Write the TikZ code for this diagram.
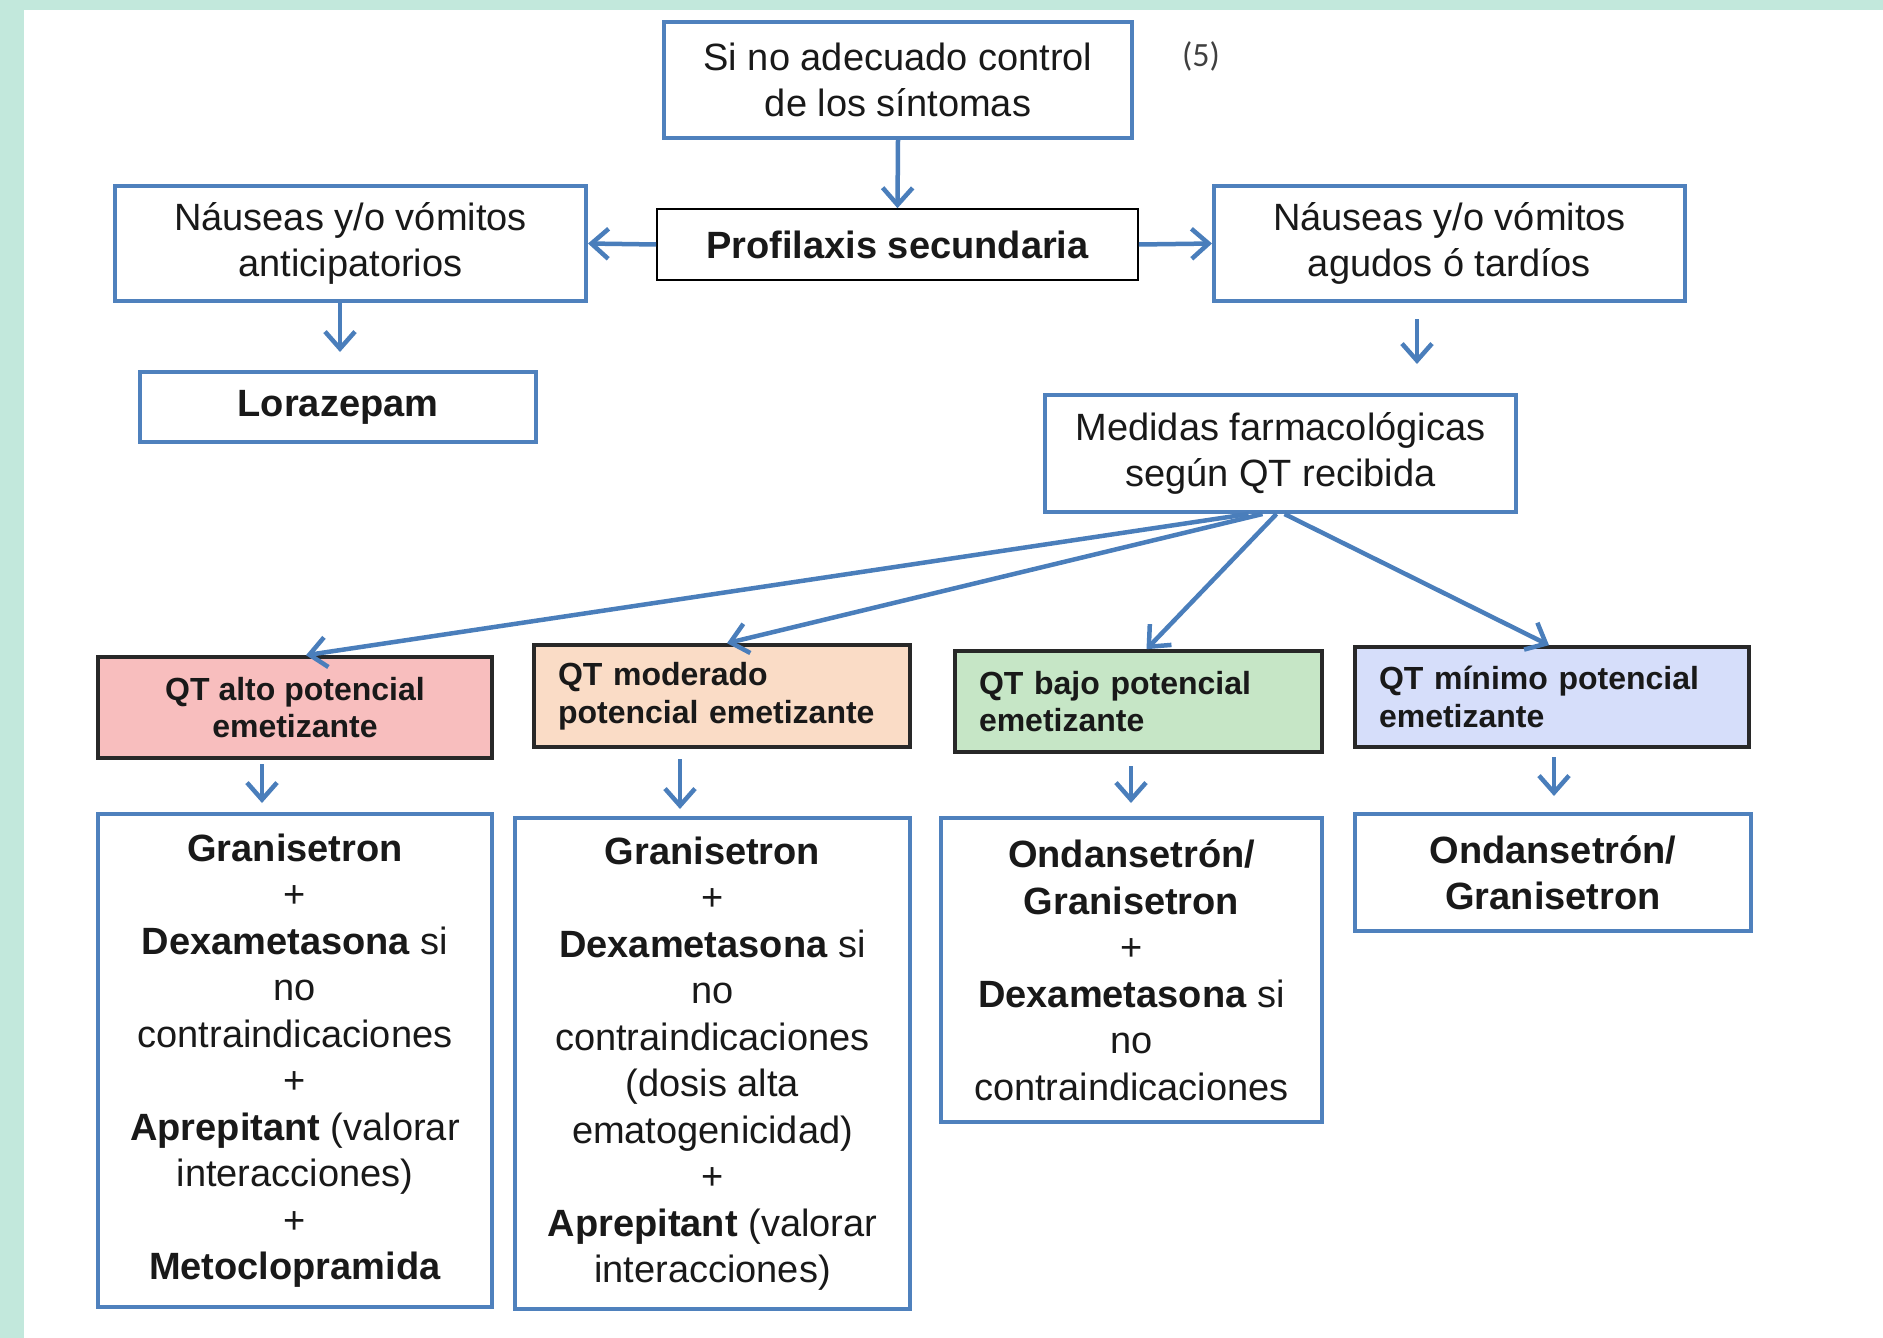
\documentclass[tikz,border=0pt]{standalone}
\usepackage{fontspec}
\setmainfont{Liberation Sans}
\newfontfamily\calib{Carlito}
\usetikzlibrary{arrows.meta,calc}
\definecolor{mint}{RGB}{194,232,220}
\definecolor{bblue}{RGB}{79,129,189}
\definecolor{ablue}{RGB}{74,126,187}
\definecolor{txt}{RGB}{25,25,25}
\definecolor{fpink}{RGB}{248,190,190}
\definecolor{fpeach}{RGB}{250,220,198}
\definecolor{fgreen}{RGB}{198,230,198}
\definecolor{flav}{RGB}{214,222,250}
\definecolor{qborder}{RGB}{40,40,40}
\tikzset{
  bigtxt/.style={font=\fontsize{38}{46.5}\selectfont, text=txt},
  bbox/.style={draw=bblue, line width=4pt, fill=white, inner sep=0pt, align=center, bigtxt},
  kbox/.style={draw=black, line width=1.6pt, fill=white, inner sep=0pt, align=center, bigtxt},
  qbox/.style={draw=qborder, line width=3.6pt, inner xsep=24pt, inner ysep=0pt, align=left,
     font=\fontsize{32}{37.5}\selectfont\bfseries, text=txt},
  arr/.style={draw=ablue, line width=4.5pt, -{Straight Barb[length=17pt,width=30pt,line width=4.5pt]}},
}
\begin{document}
\begin{tikzpicture}[x=1pt,y=-1pt]
\useasboundingbox (0,0) rectangle (1883,1338);
\fill[mint] (0,0) rectangle (1883,1338);
\fill[white] (24,10) rectangle (1883,1338);

% top row
\node[bbox, minimum width=468pt, minimum height=116pt] (top) at (898,80) {Si no adecuado control\\de los síntomas};
\node[font=\calib\fontsize{34}{40}\selectfont, text=black!75] (ref) at (1201,56) {(5)};
\node[kbox, minimum width=481pt, minimum height=71pt, font=\fontsize{38}{46.5}\selectfont\bfseries] (prof) at (897.5,244.5) {Profilaxis secundaria};
\node[bbox, minimum width=471pt, minimum height=115pt] (ant) at (350.5,243.5) {Náuseas y/o vómitos\\anticipatorios};
\node[bbox, minimum width=471pt, minimum height=115pt] (agu) at (1449.5,243.5) {Náuseas y/o vómitos\\agudos ó tardíos};
\node[bbox, minimum width=396pt, minimum height=70pt, font=\fontsize{38}{46.5}\selectfont\bfseries] (lor) at (338,407) {Lorazepam};
\node[bbox, minimum width=471pt, minimum height=117pt] (med) at (1280.5,453.5) {Medidas farmacológicas\\según QT recibida};

% QT boxes
\node[qbox, fill=fpink, minimum width=394pt, minimum height=101pt, align=center] (qa) at (295,707.5) {QT alto potencial\\emetizante};
\node[qbox, fill=fpeach, minimum width=376pt, minimum height=102pt, text width=328pt] (qm) at (722,696) {QT moderado\\potencial emetizante};
\node[qbox, fill=fgreen, minimum width=367pt, minimum height=101pt, text width=319pt] (qb) at (1138.5,701.5) {QT bajo potencial\\emetizante};
\node[qbox, fill=flav, minimum width=394pt, minimum height=100pt, text width=346pt] (qn) at (1552,697) {QT mínimo potencial\\emetizante};

% bottom boxes
\node[bbox, minimum width=394pt, minimum height=493pt] (ba) at (295,1060.5) {\textbf{Granisetron}\\+\\\textbf{Dexametasona} si\\no\\contraindicaciones\\+\\\textbf{Aprepitant} (valorar\\interacciones)\\+\\\textbf{Metoclopramida}};
\node[bbox, minimum width=395pt, minimum height=491pt] (bm) at (712.5,1063.5) {\textbf{Granisetron}\\+\\\textbf{Dexametasona} si\\no\\contraindicaciones\\(dosis alta\\ematogenicidad)\\+\\\textbf{Aprepitant} (valorar\\interacciones)};
\node[bbox, minimum width=381pt, minimum height=304pt] (bb) at (1131.5,970) {\textbf{Ondansetrón/}\\\textbf{Granisetron}\\+\\\textbf{Dexametasona} si\\no\\contraindicaciones};
\node[bbox, minimum width=396pt, minimum height=117pt] (bn) at (1553,872.5) {\textbf{Ondansetrón/}\\\textbf{Granisetron}};

% connectors
\draw[arr] (top.south) -- (prof.north);
\draw[arr] (prof.west) -- (ant.east);
\draw[arr] (prof.east) -- (agu.west);
\coordinate (lorin) at (340,352);
\draw[arr] (ant.south -| lorin) -- (lorin);
\coordinate (agu1) at (1417,319);
\coordinate (agu2) at (1417,364);
\draw[arr] (agu1) -- (agu2);

\draw[arr] ([xshift=-32pt]med.south) -- ([xshift=11pt]qa.north);
\draw[arr] ([xshift=-18pt]med.south) -- ([xshift=5pt]qm.north);
\draw[arr] ([xshift=-4pt]med.south) -- ([xshift=8pt]qb.north);
\draw[arr] ([xshift=4pt]med.south) -- ([xshift=-3pt]qn.north);

\coordinate (a1) at (262,764); \coordinate (a2) at (262,803);
\coordinate (m1) at (680,759); \coordinate (m2) at (680,809);
\coordinate (b1) at (1131,766); \coordinate (b2) at (1131,803);
\coordinate (n1) at (1554,757); \coordinate (n2) at (1554,796);
\draw[arr] (a1) -- (a2);
\draw[arr] (m1) -- (m2);
\draw[arr] (b1) -- (b2);
\draw[arr] (n1) -- (n2);
\end{tikzpicture}
\end{document}
